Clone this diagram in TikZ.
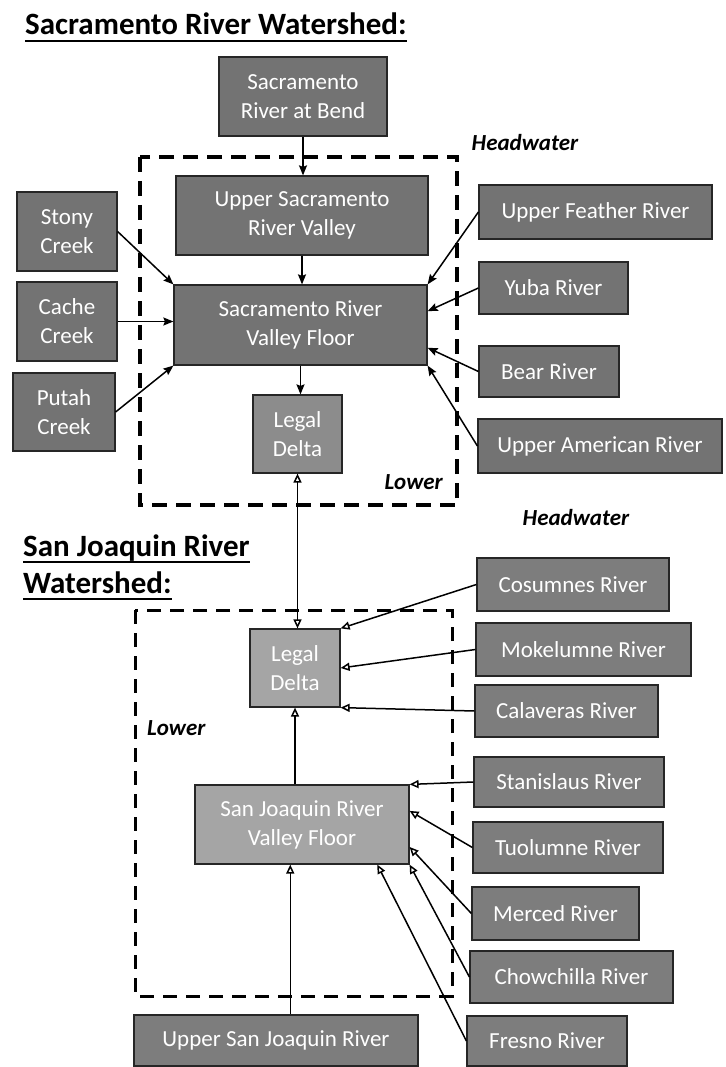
\documentclass[tikz,border=0pt]{standalone}
\usepackage{fontspec}
\setmainfont{Carlito}
\usetikzlibrary{arrows.meta,calc}
\definecolor{sacgray}{RGB}{115,115,115}
\definecolor{sjgray}{RGB}{125,125,125}
\definecolor{midgray}{RGB}{140,140,140}
\definecolor{lightgray}{RGB}{165,165,165}
\begin{document}
\begin{tikzpicture}[x=1pt,y=-1pt,
  box/.style={draw=black!85, line width=1.2pt, fill=sacgray, text=white, align=center,
    inner sep=0pt, font=\fontsize{23}{29}\selectfont},
  sjbox/.style={box, fill=sjgray},
  ltbox/.style={box, fill=lightgray},
  title/.style={inner sep=0pt, anchor=base west, font=\fontsize{31}{37}\selectfont\bfseries},
  uline/.style={line width=2.4pt},
  lbl/.style={inner sep=0pt, font=\fontsize{23}{27}\selectfont\bfseries\itshape},
  dashbox/.style={line width=3.6pt, dash pattern=on 15pt off 9pt},
  dashboxb/.style={line width=3pt, dash pattern=on 14pt off 9pt},
  sacarr/.style={line width=1.5pt, -{Stealth[length=10pt,width=8pt,inset=1.5pt]}},
  sjarr/.style={line width=1.5pt, -{Triangle[open,length=9pt,width=8pt]}},
  sjarrb/.style={line width=1.5pt, {Triangle[open,length=9pt,width=8pt]}-{Triangle[open,length=9pt,width=8pt]}}
]
\useasboundingbox (0,0) rectangle (725,1067);
\fill[white] (0,0) rectangle (725,1067);

% titles
\node[title] (t1) at (25,35) {Sacramento River Watershed:};
\draw[uline] ($(t1.base west)+(0,6)$) -- ($(t1.base east)+(0,6)$);
\node[title] (t2) at (23,556) {San Joaquin River};
\draw[uline] ($(t2.base west)+(0,6)$) -- ($(t2.base east)+(0,6)$);
\node[title] (t3) at (23,593) {Watershed:};
\draw[uline] ($(t3.base west)+(0,6)$) -- ($(t3.base east)+(0,6)$);

% dashed regions
\draw[dashbox] (140,157) rectangle (457,505);
\draw[dashboxb] (135,610) rectangle (452,996);

% labels
\node[lbl] (hw1) at (525,143) {Headwater};
\node[lbl, anchor=east] (lo1) at (443,482) {Lower};
\node[lbl] (hw2) at (576,518) {Headwater};
\node[lbl, anchor=west] (lo2) at (147,728) {Lower};

% Sacramento boxes
\node[box, minimum width=168pt, minimum height=79pt] (bend) at (303,96.5) {Sacramento\\River at Bend};
\node[box, minimum width=252pt, minimum height=79pt] (usv) at (302,215.5) {Upper Sacramento\\River Valley};
\node[box, minimum width=253pt, minimum height=80pt] (svf) at (300.5,325) {Sacramento River\\Valley Floor};
\node[box, fill=midgray, minimum width=89pt, minimum height=78pt] (ld1) at (297.5,434) {Legal\\Delta};
\node[box, minimum width=100pt, minimum height=79pt] (stony) at (67,231.5) {Stony\\Creek};
\node[box, minimum width=100pt, minimum height=79pt] (cache) at (67,321.5) {Cache\\Creek};
\node[box, minimum width=102pt, minimum height=78pt] (putah) at (64,412) {Putah\\Creek};
\node[box, minimum width=233pt, minimum height=54pt] (feather) at (595.5,212) {Upper Feather River};
\node[box, minimum width=149pt, minimum height=52pt] (yuba) at (553.5,288) {Yuba River};
\node[box, minimum width=140pt, minimum height=51pt] (bear) at (549,371.5) {Bear River};
\node[box, minimum width=244pt, minimum height=54pt] (american) at (600,446) {Upper American River};

% San Joaquin boxes
\node[ltbox, minimum width=90pt, minimum height=78pt] (ld2) at (295,668) {Legal\\Delta};
\node[ltbox, minimum width=214pt, minimum height=79pt] (sjf) at (302,824.5) {San Joaquin River\\Valley Floor};
\node[sjbox, minimum width=284pt, minimum height=51pt] (usj) at (276,1040.5) {Upper San Joaquin River};
\node[sjbox, minimum width=192pt, minimum height=53pt] (cosumnes) at (573,584.5) {Cosumnes River};
\node[sjbox, minimum width=215pt, minimum height=53pt] (mokelumne) at (583.5,649.5) {Mokelumne River};
\node[sjbox, minimum width=183pt, minimum height=52pt] (calaveras) at (566.5,711) {Calaveras River};
\node[sjbox, minimum width=190pt, minimum height=50pt] (stanislaus) at (569,782) {Stanislaus River};
\node[sjbox, minimum width=190pt, minimum height=51pt] (tuolumne) at (568,847.5) {Tuolumne River};
\node[sjbox, minimum width=167pt, minimum height=53pt] (merced) at (555.5,913.5) {Merced River};
\node[sjbox, minimum width=203pt, minimum height=52pt] (chowchilla) at (571.5,977) {Chowchilla River};
\node[sjbox, minimum width=160pt, minimum height=50pt] (fresno) at (547,1041) {Fresno River};

% Sacramento connectors
\draw[sacarr] (bend.south) -- (bend.south |- usv.north);
\draw[sacarr] (usv.south) -- (usv.south |- svf.north);
\draw[sacarr] (svf.south) -- (svf.south |- ld1.north);
\draw[sacarr] (stony.east) -- (svf.north west);
\draw[sacarr] (cache.east) -- (cache.east -| svf.west);
\draw[sacarr] (putah.east) -- (svf.south west);
\draw[sacarr] (feather.west) -- (svf.north east);
\draw[sacarr] (yuba.west) -- ($(svf.north east)!0.33!(svf.south east)$);
\draw[sacarr] (bear.west) -- ($(svf.north east)!0.78!(svf.south east)$);
\draw[sacarr] (american.west) -- (svf.south east);

% Delta link
\draw[sjarrb] (ld1.south) -- (ld1.south |- ld2.north);

% San Joaquin connectors
\draw[sjarr] (cosumnes.west) -- (ld2.north east);
\draw[sjarr] (mokelumne.west) -- (ld2.east);
\draw[sjarr] (calaveras.west) -- (ld2.south east);
\draw[sjarr] (sjf.north -| ld2.south) -- (ld2.south);
\draw[sjarr] (stanislaus.west) -- (sjf.north east);
\draw[sjarr] (tuolumne.west) -- ($(sjf.north east)!0.33!(sjf.south east)$);
\draw[sjarr] (merced.west) -- ($(sjf.north east)!0.78!(sjf.south east)$);
\draw[sjarr] (chowchilla.west) -- (sjf.south east);
\draw[sjarr] (fresno.west) -- ($(sjf.south west)!0.85!(sjf.south east)$);
\coordinate (usjtop) at ($(usj.north west)!0.55!(usj.north east)$);
\draw[sjarr] (usjtop) -- (usjtop |- sjf.south);
\end{tikzpicture}
\end{document}
